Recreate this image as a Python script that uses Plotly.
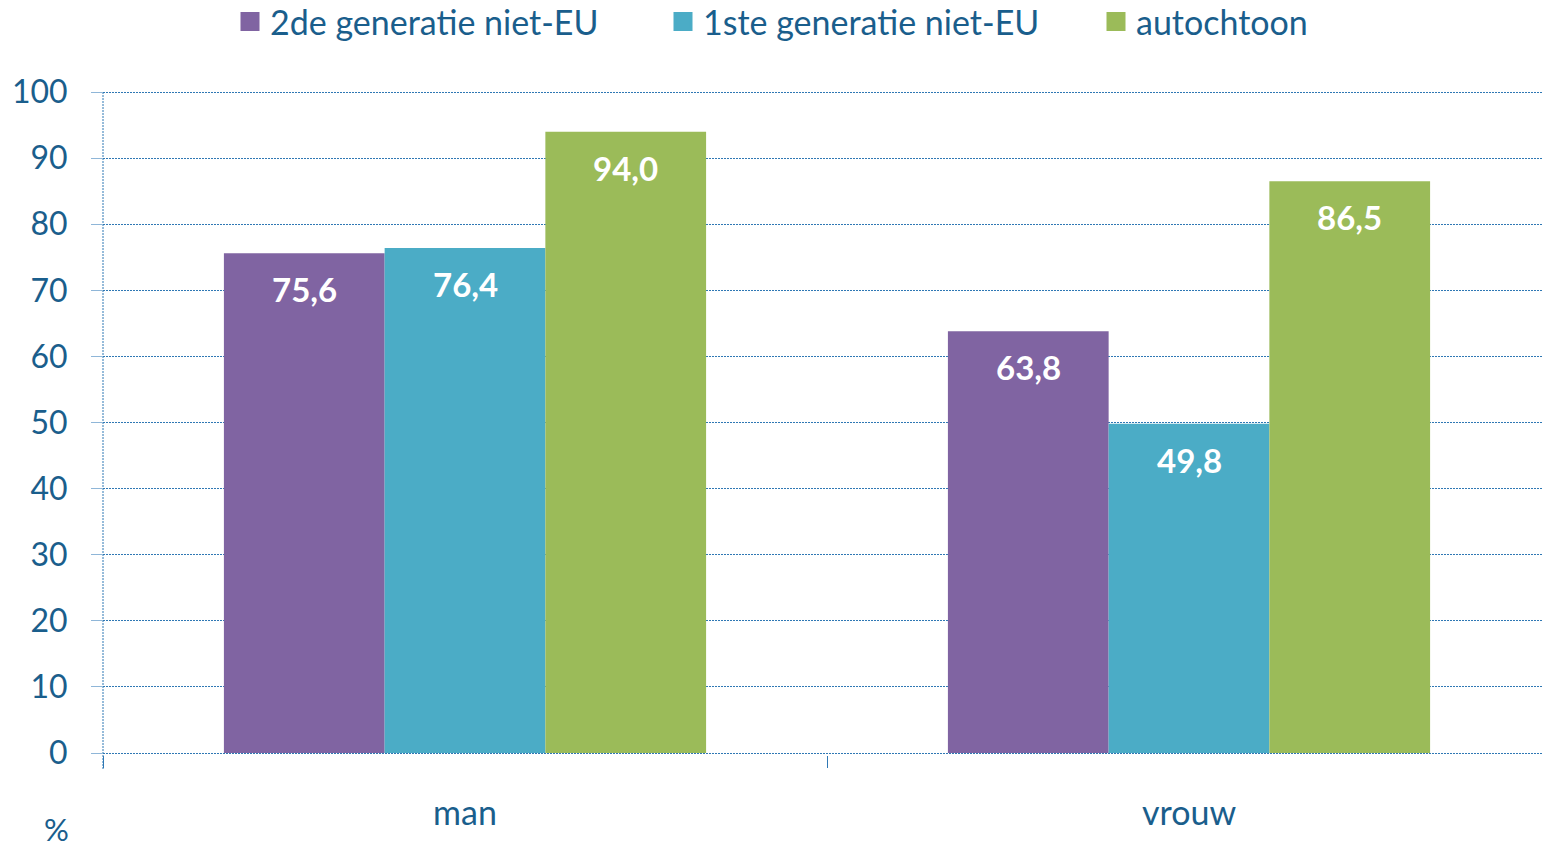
import plotly.graph_objects as go

categories = ["man", "vrouw"]
series_names = ["2de generatie niet-EU", "1ste generatie niet-EU", "autochtoon"]
gen2_values = [75.6, 63.8]
gen1_values = [76.4, 49.8]
autoch_values = [94.0, 86.5]
y_ticks = [0, 10, 20, 30, 40, 50, 60, 70, 80, 90, 100]
y_unit = "%"

colors = ["#8064A2", "#4BACC6", "#9BBB59"]
text_color = "#1a5e8c"
grid_color = "#2f78b4"
font_family = "Lato"

W, H = 1543, 847
pad = 2  # px of extra range so the 0 and 100 gridlines are drawn
L, R, T, B = 103, 0, 92 - pad, 94 - pad
plot_w = W - L - R
plot_h = H - T - B
cat_px = 724.0
bargap = 0.334
bar_px = cat_px * (1 - bargap) / 3
unit_px = 661 / 100.0
y_pad = pad / unit_px

fig = go.Figure()
all_values = [gen2_values, gen1_values, autoch_values]
for i, (name, vals) in enumerate(zip(series_names, all_values)):
    fig.add_trace(go.Bar(
        x=categories, y=vals, name=name, showlegend=False,
        marker=dict(color=colors[i], line=dict(width=0)),
        hoverinfo="x+y",
    ))
    # legend proxy
    fig.add_trace(go.Scatter(
        x=[None], y=[None], mode="markers", name=name,
        marker=dict(symbol="square", size=16, color=colors[i],
                    line=dict(width=3, color=colors[i])),
    ))
    for j, (c, v) in enumerate(zip(categories, vals)):
        fig.add_annotation(
            x=c, y=v, xref="x", yref="y",
            text="<b>" + f"{v:.1f}".replace(".", ",") + "</b>",
            showarrow=False, xshift=(i - 1) * bar_px, yshift=-36,
            font=dict(family=font_family, size=33, color="white"),
        )

# dotted y axis line, extends below zero like a tick
fig.add_shape(type="line", xref="paper", yref="paper", x0=0, x1=0,
              y0=-(12 + pad) / plot_h, y1=1 - pad / plot_h,
              line=dict(color=grid_color, width=1, dash="2px,1px"))

fig.add_annotation(text=y_unit, xref="paper", yref="paper", x=0, y=0,
                   xanchor="center", yanchor="middle",
                   xshift=-47, yshift=-(76 - pad), showarrow=False,
                   font=dict(family=font_family, size=31, color=text_color))

x_max = -0.5 + plot_w / cat_px

fig.update_layout(
    width=W, height=H,
    margin=dict(l=L, r=R, t=T, b=B, autoexpand=False),
    plot_bgcolor="white", paper_bgcolor="white",
    barmode="group", bargap=bargap, bargroupgap=0,
    font=dict(family=font_family, color=text_color),
    legend=dict(
        orientation="h", x=(230 - 103) / plot_w, xanchor="left",
        y=(plot_h + T - 22) / plot_h, yanchor="middle",
        font=dict(family=font_family, size=34, color=text_color),
        entrywidth=388, entrywidthmode="pixels",
        bgcolor="rgba(0,0,0,0)",
    ),
    xaxis=dict(
        range=[-0.5, x_max], showgrid=False, zeroline=False, showline=False,
        tickson="boundaries", ticks="outside", ticklen=12, tickcolor=grid_color,
        tickwidth=1, ticklabelstandoff=35,
        tickfont=dict(family=font_family, size=34, color=text_color),
        fixedrange=True,
    ),
    yaxis=dict(
        range=[-y_pad, 100 + y_pad], tickvals=y_ticks, showgrid=True,
        gridcolor=grid_color, griddash="2px,1px", gridwidth=1,
        zeroline=False, showline=False,
        ticks="outside", ticklen=11, tickcolor="#8fb6d8", tickwidth=1,
        ticklabelstandoff=17,
        tickfont=dict(family=font_family, size=32, color=text_color),
        fixedrange=True,
    ),
)

fig.write_html(
    "out.html",
    config={"displayModeBar": False},
    post_script="document.body.style.margin='0';document.body.style.overflow='hidden';",
)
